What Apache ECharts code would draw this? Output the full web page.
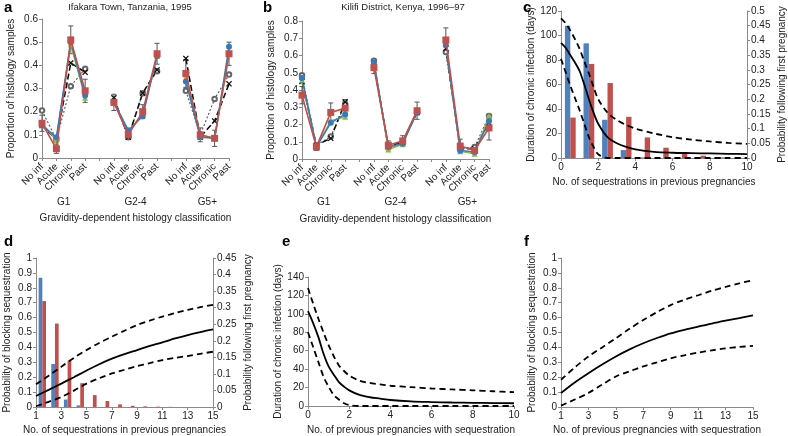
<!DOCTYPE html>
<html><head><meta charset="utf-8">
<script src="https://cdn.jsdelivr.net/npm/echarts@6/dist/echarts.min.js"></script>
<style>html,body{margin:0;padding:0;background:#fff}#c{width:788px;height:436px}</style>
</head><body><div id="c"></div>
<script>
// ---------- data ----------
const histCats = ['No inf', 'Acute', 'Chronic', 'Past'];
const groups = ['G1', 'G2-4', 'G5+'];
// panel a (G1 x4, G2-4 x4, G5+ x4)
const aRed    = [0.15, 0.04, 0.51, 0.29,  0.24, 0.10, 0.20, 0.45,  0.365, 0.10, 0.085, 0.45];
const aRedErr = [0.035, 0.02, 0.06, 0.05, 0.035, 0.02, 0.03, 0.045, 0.06, 0.03, 0.035, 0.05];
const aBlue   = [0.14, 0.09, 0.50, 0.27,  0.24, 0.12, 0.18, 0.44,  0.33, 0.09, 0.085, 0.48];
const aGreen  = [0.145, 0.08, 0.49, 0.26, 0.245, 0.11, 0.19, 0.44, 0.34, 0.095, 0.085, 0.45];
const aYellow = [0.15, 0.08, 0.49, 0.27,  0.24, 0.11, 0.19, 0.44,  0.35, 0.10, 0.085, 0.45];
const aCross  = [0.14, 0.08, 0.41, 0.37,  0.26, 0.09, 0.28, 0.38,  0.43, 0.09, 0.16, 0.32];
const aOpen   = [0.205, 0.08, 0.31, 0.385, 0.245, 0.09, 0.28, 0.375, 0.29, 0.10, 0.255, 0.36];
// panel b
const bRed    = [0.37, 0.07, 0.27, 0.295, 0.53, 0.08, 0.105, 0.28, 0.69, 0.075, 0.05, 0.18];
const bRedErr = [0.05, 0.02, 0.055, 0.05, 0.035, 0.025, 0.03, 0.05, 0.07, 0.04, 0.02, 0.07];
const bBlue   = [0.47, 0.07, 0.21, 0.26,  0.56, 0.07, 0.09, 0.27,  0.66, 0.05, 0.04, 0.22];
const bGreen  = [0.46, 0.07, 0.22, 0.245, 0.565, 0.055, 0.085, 0.28, 0.67, 0.045, 0.03, 0.25];
const bYellow = [0.47, 0.07, 0.22, 0.25,  0.56, 0.06, 0.09, 0.28,  0.67, 0.05, 0.035, 0.24];
const bCross  = [0.45, 0.08, 0.12, 0.33,  0.55, 0.07, 0.10, 0.27,  0.64, 0.06, 0.06, 0.21];
const bOpen   = [0.485, 0.08, 0.13, 0.32, 0.57, 0.07, 0.09, 0.27,  0.62, 0.06, 0.07, 0.25];
// panel c
const cBarCats = ['0','1','2','3','4','5','6','7','8','9'];
const cBlue = [0.45, 0.39, 0.13, 0.027, 0.002, 0, 0, 0, 0, 0];
const cRed  = [0.1375, 0.32, 0.255, 0.14, 0.07, 0.035, 0.017, 0.008, 0.002, 0];
const cX     = [0, 0.25, 0.5, 0.75, 1, 1.25, 1.5, 1.75, 2, 2.5, 3, 3.5, 4, 5, 6, 7, 8, 9, 10];
const cMid   = [94, 90, 84, 78, 71, 60, 48, 37, 28, 17, 12, 9, 7, 5, 4.3, 4, 3.7, 3.4, 3.2];
const cUpper = [114, 110, 104, 97, 89, 79, 69, 58, 48, 37, 31, 27, 24, 20, 17, 15, 13.5, 12.3, 11.5];
const cLower = [81, 70, 59, 49, 39, 28, 17, 9, 3, 0, 0, 0, 0, 0, 0, 0, 0, 0, 0];
// panel d
const dCats = ['1','2','3','4','5','6','7','8','9','10','11','12','13','14','15'];
const dBarCats = ['1','2','3','4','5','6','7','8','9','10','11','12','13','14'];
const dBlue = [0.39, 0.13, 0.0225, 0.005, 0, 0, 0, 0, 0, 0, 0, 0, 0, 0];
const dRed  = [0.32, 0.252, 0.14, 0.072, 0.036, 0.018, 0.008, 0.0036, 0.002, 0.001, 0.0005, 0, 0, 0];
const dMid   = [0.074, 0.115, 0.157, 0.20, 0.245, 0.287, 0.325, 0.355, 0.382, 0.41, 0.434, 0.46, 0.483, 0.503, 0.521];
const dUpper = [0.153, 0.21, 0.27, 0.33, 0.382, 0.43, 0.472, 0.512, 0.55, 0.58, 0.607, 0.63, 0.652, 0.67, 0.685];
const dLower = [0.005, 0.035, 0.067, 0.11, 0.157, 0.193, 0.225, 0.25, 0.274, 0.295, 0.315, 0.33, 0.342, 0.357, 0.371];
// panel e
const eX     = [0, 0.25, 0.5, 0.75, 1, 1.25, 1.5, 1.75, 2, 2.5, 3, 3.5, 4, 5, 6, 7, 8, 9, 10];
const eMid   = [103, 90, 75, 57, 43, 34, 26, 21, 17, 12, 9.5, 8, 6.5, 5, 4.3, 3.8, 3.5, 3.2, 3];
const eUpper = [128, 111, 95, 80, 66, 54, 44, 38, 33, 27.5, 25, 23.5, 22, 20.5, 19, 18, 17, 16, 15];
const eLower = [80, 64, 48, 32, 21, 12, 7, 3, 1, 0, 0, 0, 0, 0, 0, 0, 0, 0, 0];
// panel f
const fCats = dCats;
const fMid   = [0.094, 0.165, 0.227, 0.285, 0.339, 0.387, 0.428, 0.463, 0.494, 0.518, 0.539, 0.56, 0.579, 0.597, 0.615];
const fUpper = [0.183, 0.265, 0.339, 0.40, 0.461, 0.525, 0.584, 0.637, 0.684, 0.72, 0.75, 0.78, 0.806, 0.83, 0.851];
const fLower = [0.009, 0.05, 0.094, 0.15, 0.205, 0.24, 0.272, 0.30, 0.327, 0.347, 0.365, 0.38, 0.394, 0.403, 0.41];

// ---------- helpers ----------
const FONT = 'Liberation Sans, Arial, Helvetica, sans-serif';
const TXT = '#222';
const AX = '#8a8a8a';
const BLUE = '#4F81BD', RED = '#C0504D';

const histAxisCats = [];
groups.forEach((g, i) => { histAxisCats.push(...histCats); if (i < groups.length - 1) histAxisCats.push(''); });
function withGaps(arr) {
  const out = [];
  for (let g = 0; g < 3; g++) { out.push(...arr.slice(g * 4, g * 4 + 4)); if (g < 2) out.push(null); }
  return out;
}
function errData(vals, errs) {
  const v = withGaps(vals), e = withGaps(errs), out = [];
  v.forEach((y, i) => { if (y != null) out.push([i, y - e[i], y + e[i]]); });
  return out;
}
function pairs(xs, ys) { return xs.map((x, i) => [x, ys[i]]); }

const grids = [
  { left: 42, top: 19, width: 187, height: 139 },   // a
  { left: 302, top: 21, width: 187, height: 138 },  // b
  { left: 561, top: 11, width: 186, height: 147 },  // c
  { left: 36, top: 258, width: 177, height: 149 },  // d
  { left: 308, top: 277, width: 206, height: 129 }, // e
  { left: 561, top: 258, width: 192, height: 149 }  // f
];

const lbl = { fontSize: 10, color: TXT, fontFamily: FONT };
const axLine = { show: true, lineStyle: { color: AX, width: 1 } };
const axTick = { show: true, length: 3, lineStyle: { color: AX } };
const nameStyle = { fontSize: 10, color: TXT, fontFamily: FONT };

function yAx(grid, min, max, interval, name, gap, pos) {
  return {
    type: 'value', gridIndex: grid, min, max, interval, position: pos || 'left',
    axisLine: axLine, axisTick: axTick, splitLine: { show: false },
    axisLabel: Object.assign({ margin: 4 }, lbl),
    name, nameLocation: 'middle', nameGap: gap, nameRotate: 90, nameTextStyle: nameStyle
  };
}
function histX(grid) {
  return {
    type: 'category', gridIndex: grid, data: histAxisCats, boundaryGap: false,
    axisLine: axLine, axisTick: { show: true, length: 3, lineStyle: { color: AX }, interval: 0 },
    axisLabel: Object.assign({ rotate: 45, interval: 0, margin: 7 }, lbl),
    name: 'Gravidity-dependent histology classification', nameLocation: 'middle', nameGap: 55,
    nameTextStyle: nameStyle
  };
}
const XSYM = 'path://M0,1.5L1.5,0L5,3.5L8.5,0L10,1.5L6.5,5L10,8.5L8.5,10L5,6.5L1.5,10L0,8.5L3.5,5Z';
function histSeries(xi, yi, open, cross, yellow, green, blue, red, redErr) {
  const base = { type: 'line', xAxisIndex: xi, yAxisIndex: yi, connectNulls: false, animation: false };
  return [
    Object.assign({}, base, { data: withGaps(open), symbol: 'emptyCircle', symbolSize: 4.5,
      itemStyle: { color: '#666', borderWidth: 1 }, lineStyle: { color: '#555', width: 1.1, type: [2, 2] } }),
    Object.assign({}, base, { data: withGaps(cross), symbol: XSYM, symbolSize: 6,
      itemStyle: { color: '#111' }, lineStyle: { color: '#111', width: 1.6, type: [6, 3] } }),
    Object.assign({}, base, { data: withGaps(yellow), symbol: 'circle', symbolSize: 5,
      itemStyle: { color: '#E8B923' }, lineStyle: { color: '#E8B923', width: 1.4 } }),
    Object.assign({}, base, { data: withGaps(green), symbol: 'triangle', symbolSize: 6,
      itemStyle: { color: '#8CB84B' }, lineStyle: { color: '#8CB84B', width: 1.4 } }),
    Object.assign({}, base, { data: withGaps(blue), symbol: 'circle', symbolSize: 6,
      itemStyle: { color: '#2F7BC4' }, lineStyle: { color: '#2F7BC4', width: 1.5 } }),
    {
      type: 'custom', xAxisIndex: xi, yAxisIndex: yi, data: errData(red, redErr), animation: false, z: 3,
      renderItem(params, api) {
        const x = api.value(0), p1 = api.coord([x, api.value(1)]), p2 = api.coord([x, api.value(2)]);
        const st = { stroke: '#555', lineWidth: 1 };
        return { type: 'group', children: [
          { type: 'line', shape: { x1: p1[0], y1: p1[1], x2: p2[0], y2: p2[1] }, style: st },
          { type: 'line', shape: { x1: p1[0] - 2.5, y1: p1[1], x2: p1[0] + 2.5, y2: p1[1] }, style: st },
          { type: 'line', shape: { x1: p2[0] - 2.5, y1: p2[1], x2: p2[0] + 2.5, y2: p2[1] }, style: st }
        ] };
      }
    },
    Object.assign({}, base, { data: withGaps(red), symbol: 'rect', symbolSize: 7, z: 4,
      itemStyle: { color: RED }, lineStyle: { color: RED, width: 1.6 } })
  ];
}
function curve(xi, yi, data, dashed) {
  return { type: 'line', xAxisIndex: xi, yAxisIndex: yi, data, smooth: 0.3, symbol: 'none', animation: false, z: 5,
    lineStyle: { color: '#000', width: 1.8, type: dashed ? [6, 4] : 'solid' } };
}
function bar(xi, yi, data, color, w) {
  return { type: 'bar', xAxisIndex: xi, yAxisIndex: yi, data, barWidth: w, barGap: '0%', animation: false,
    itemStyle: { color } };
}

// group labels
const graphic = [];
[0, 1].forEach(gi => {
  const g = grids[gi], step = g.width / 13;
  groups.forEach((name, k) => {
    graphic.push({ type: 'text', x: g.left + (1.5 + 5 * k) * step, y: 202,
      style: { text: name, align: 'center', verticalAlign: 'middle', fontSize: 10, fontFamily: FONT, fill: TXT } });
  });
});

const letter = (t, left, top) => ({ text: t, left, top, padding: 0,
  textStyle: { fontSize: 15, fontWeight: 'bold', color: '#000', fontFamily: FONT } });
const sub = (t, cx, top) => ({ text: t, left: cx, top, padding: 0, textAlign: 'center',
  textStyle: { fontSize: 9.5, fontWeight: 'normal', color: TXT, fontFamily: FONT } });

const option = {
  backgroundColor: '#fff',
  animation: false,
  title: [
    letter('a', 4, 0), letter('b', 263, 0), letter('c', 523, 0),
    letter('d', 4, 234), letter('e', 282, 234), letter('f', 524, 234),
    sub('Ifakara Town, Tanzania, 1995', 130, 2),
    sub('Kilifi District, Kenya, 1996\u201397', 403, 2)
  ],
  graphic,
  grid: grids,
  xAxis: [
    histX(0),
    histX(1),
    { type: 'value', gridIndex: 2, min: 0, max: 10, interval: 2, axisLine: axLine, axisTick: axTick,
      splitLine: { show: false }, axisLabel: Object.assign({ margin: 4 }, lbl),
      name: 'No. of sequestrations in previous pregnancies', nameLocation: 'middle', nameGap: 19, nameTextStyle: nameStyle },
    { type: 'category', gridIndex: 2, data: cBarCats, boundaryGap: true, show: false },
    { type: 'category', gridIndex: 3, data: dCats, boundaryGap: false, axisLine: axLine,
      axisTick: Object.assign({ interval: 1 }, axTick), axisLabel: Object.assign({ margin: 4, interval: 1 }, lbl),
      name: 'No. of sequestrations in previous pregnancies', nameLocation: 'middle', nameGap: 18, nameTextStyle: nameStyle },
    { type: 'category', gridIndex: 3, data: dBarCats, boundaryGap: true, show: false },
    { type: 'value', gridIndex: 4, min: 0, max: 10, interval: 2, axisLine: axLine, axisTick: axTick,
      splitLine: { show: false }, axisLabel: Object.assign({ margin: 4 }, lbl),
      name: 'No. of previous pregnancies with sequestration', nameLocation: 'middle', nameGap: 19, nameTextStyle: nameStyle },
    { type: 'category', gridIndex: 5, data: fCats, boundaryGap: false, axisLine: axLine,
      axisTick: Object.assign({ interval: 1 }, axTick), axisLabel: Object.assign({ margin: 4, interval: 1 }, lbl),
      name: 'No. of previous pregnancies with sequestration', nameLocation: 'middle', nameGap: 18, nameTextStyle: nameStyle }
  ],
  yAxis: [
    yAx(0, 0, 0.6, 0.1, 'Proportion of histology samples', 26),
    yAx(1, 0, 0.8, 0.1, 'Proportion of histology samples', 26),
    yAx(2, 0, 120, 20, 'Duration of chronic infection (days)', 24),
    yAx(2, 0, 0.5, 0.05, 'Probability following first pregnancy', 30, 'right'),
    yAx(3, 0, 1, 0.1, 'Probability of blocking sequestration', 24),
    yAx(3, 0, 0.45, 0.05, 'Probability following first pregnancy', 30, 'right'),
    yAx(4, 0, 140, 20, 'Duration of chronic infection (days)', 24),
    yAx(5, 0, 1, 0.1, 'Probability of blocking sequestration', 24)
  ],
  series: [
    ...histSeries(0, 0, aOpen, aCross, aYellow, aGreen, aBlue, aRed, aRedErr),
    ...histSeries(1, 1, bOpen, bCross, bYellow, bGreen, bBlue, bRed, bRedErr),
    bar(3, 3, cBlue, BLUE, 5.4), bar(3, 3, cRed, RED, 5.4),
    curve(2, 2, pairs(cX, cUpper), true), curve(2, 2, pairs(cX, cLower), true), curve(2, 2, pairs(cX, cMid), false),
    bar(5, 5, dBlue, BLUE, 3.7), bar(5, 5, dRed, RED, 3.7),
    curve(4, 4, dUpper, true), curve(4, 4, dLower, true), curve(4, 4, dMid, false),
    curve(6, 6, pairs(eX, eUpper), true), curve(6, 6, pairs(eX, eLower), true), curve(6, 6, pairs(eX, eMid), false),
    curve(7, 7, fUpper, true), curve(7, 7, fLower, true), curve(7, 7, fMid, false)
  ]
};
const chart = echarts.init(document.getElementById('c'), null, { renderer: 'canvas' });
chart.setOption(option);
</script>
</body></html>
